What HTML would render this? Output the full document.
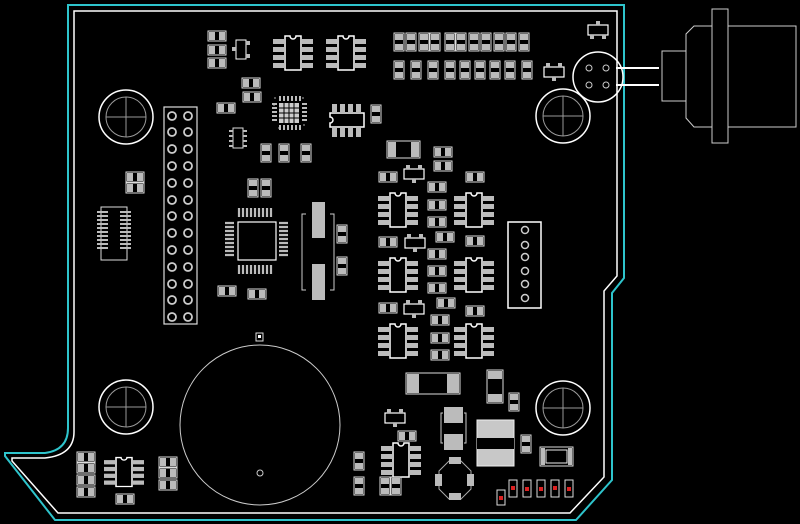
<!DOCTYPE html>
<html><head><meta charset="utf-8"><style>
html,body{margin:0;padding:0;background:#000;}
svg{display:block}
</style></head><body>
<svg width="800" height="524" viewBox="0 0 800 524" xmlns="http://www.w3.org/2000/svg">
<defs>
<g id="R"><rect x="-9" y="-5" width="18" height="10" fill="none" stroke="#ddd" stroke-width="1"/><rect x="-8" y="-4" width="6" height="8" fill="#bbb"/><rect x="2" y="-4" width="6" height="8" fill="#bbb"/></g>
<g id="RV"><rect x="-5" y="-9" width="10" height="18" fill="none" stroke="#ddd" stroke-width="1"/><rect x="-4" y="-8" width="8" height="6" fill="#bbb"/><rect x="-4" y="2" width="8" height="6" fill="#bbb"/></g>
<g id="S"><path d="M-8,-17 H-3 A3,3 0 0 0 3,-17 H8 V17 H-8 Z" fill="none" stroke="#fff" stroke-width="1.5"/>
<g fill="#bbb"><rect x="-20" y="-14" width="11" height="5"/><rect x="-20" y="-6" width="11" height="5"/><rect x="-20" y="2" width="11" height="5"/><rect x="-20" y="10" width="11" height="5"/><rect x="9" y="-14" width="11" height="5"/><rect x="9" y="-6" width="11" height="5"/><rect x="9" y="2" width="11" height="5"/><rect x="9" y="10" width="11" height="5"/></g></g>
<g id="T"><rect x="-10" y="-5" width="20" height="10" fill="none" stroke="#fff" stroke-width="1.2"/><g fill="#bbb"><rect x="-8" y="-9" width="4" height="4"/><rect x="4" y="-9" width="4" height="4"/><rect x="-2" y="5" width="4" height="4"/></g></g>
<g id="T2"><rect x="-10" y="-5" width="20" height="10" fill="none" stroke="#fff" stroke-width="1.2"/><g fill="#bbb"><rect x="-8" y="5" width="4" height="4"/><rect x="4" y="5" width="4" height="4"/><rect x="-2" y="-9" width="4" height="4"/></g></g>
<g id="H"><circle r="27" fill="none" stroke="#fff" stroke-width="1.5"/><circle r="20" fill="none" stroke="#999" stroke-width="1"/><path d="M-20,0 H20 M0,-20 V20" stroke="#999" stroke-width="1"/></g>
<g id="P"><circle r="4" fill="none" stroke="#ccc" stroke-width="1.8"/></g>
</defs>

<path d="M68,5 H624 V278 L612,293 V480 L576,520 H55 L5,456 V453 H45 Q68,450 68,428 Z" fill="none" stroke="#2ec4cc" stroke-width="2"/>
<path d="M74,11 H617 V276 L604,291 V477 L570,513 H58 L12,461 V458 H45 Q74,455 74,432 Z" fill="none" stroke="#fff" stroke-width="1.5"/>

<use href="#H" x="126" y="117"/><use href="#H" x="563" y="116"/><use href="#H" x="126" y="407"/><use href="#H" x="563" y="408"/>

<circle cx="598" cy="77" r="25" fill="none" stroke="#fff" stroke-width="1.5"/>
<circle cx="589" cy="68" r="3" fill="none" stroke="#ccc"/><circle cx="606" cy="68" r="3" fill="none" stroke="#ccc"/>
<circle cx="589" cy="85" r="3" fill="none" stroke="#ccc"/><circle cx="606" cy="85" r="3" fill="none" stroke="#ccc"/>
<path d="M616,68 H659 M616,85 H659" stroke="#fff" stroke-width="2"/>
<rect x="662" y="51" width="24" height="50" fill="none" stroke="#ccc"/>
<path d="M712,26 H694 L686,34 V118 L694,127 H712" fill="none" stroke="#ccc"/>
<rect x="712" y="9" width="16" height="134" fill="none" stroke="#ccc"/>
<rect x="728" y="26" width="68" height="101" fill="none" stroke="#ccc"/>

<rect x="164" y="107" width="33" height="217" fill="none" stroke="#ddd" stroke-width="1.2"/>
<g>
<use href="#P" x="172" y="116"/><use href="#P" x="188" y="116"/>
<use href="#P" x="172" y="132"/><use href="#P" x="188" y="132"/>
<use href="#P" x="172" y="149"/><use href="#P" x="188" y="149"/>
<use href="#P" x="172" y="166"/><use href="#P" x="188" y="166"/>
<use href="#P" x="172" y="183"/><use href="#P" x="188" y="183"/>
<use href="#P" x="172" y="200"/><use href="#P" x="188" y="200"/>
<use href="#P" x="172" y="216"/><use href="#P" x="188" y="216"/>
<use href="#P" x="172" y="233"/><use href="#P" x="188" y="233"/>
<use href="#P" x="172" y="250"/><use href="#P" x="188" y="250"/>
<use href="#P" x="172" y="267"/><use href="#P" x="188" y="267"/>
<use href="#P" x="172" y="284"/><use href="#P" x="188" y="284"/>
<use href="#P" x="172" y="300"/><use href="#P" x="188" y="300"/>
<use href="#P" x="172" y="317"/><use href="#P" x="188" y="317"/>
</g>

<rect x="101" y="207" width="26" height="53" fill="none" stroke="#ddd"/>
<g stroke="#bbb" stroke-width="2">
<path d="M97,212 H108 M97,216 H108 M97,220 H108 M97,224 H108 M97,228 H108 M97,232 H108 M97,236 H108 M97,240 H108 M97,244 H108 M97,248 H108"/>
<path d="M120,212 H131 M120,216 H131 M120,220 H131 M120,224 H131 M120,228 H131 M120,232 H131 M120,236 H131 M120,240 H131 M120,244 H131 M120,248 H131"/>
</g>
<use href="#R" x="135" y="177"/><use href="#R" x="135" y="188"/>

<use href="#R" x="217" y="36"/><use href="#R" x="217" y="50"/><use href="#R" x="217" y="63"/>
<rect x="236" y="40" width="10" height="19" fill="none" stroke="#fff"/><rect x="232" y="47" width="4" height="4" fill="#bbb"/><rect x="246" y="41" width="4" height="4" fill="#bbb"/><rect x="246" y="54" width="4" height="4" fill="#bbb"/>
<use href="#R" x="251" y="83"/><use href="#R" x="252" y="97"/><use href="#R" x="226" y="108"/>
<rect x="233" y="128" width="10" height="20" fill="none" stroke="#ddd"/>
<g fill="#bbb"><rect x="229" y="130" width="4" height="2"/><rect x="229" y="135" width="4" height="2"/><rect x="229" y="140" width="4" height="2"/><rect x="229" y="145" width="4" height="2"/><rect x="243" y="130" width="4" height="2"/><rect x="243" y="135" width="4" height="2"/><rect x="243" y="140" width="4" height="2"/><rect x="243" y="145" width="4" height="2"/></g>
<use href="#RV" x="266" y="153"/><use href="#RV" x="284" y="153"/><use href="#RV" x="306" y="153"/>
<use href="#RV" x="253" y="188"/><use href="#RV" x="266" y="188"/>

<use href="#S" x="293" y="53"/><use href="#S" x="346" y="53"/>

<rect x="279" y="103" width="20" height="20" fill="#ccc"/>
<rect x="274" y="98" width="30" height="30" fill="none" stroke="#aaa" stroke-dasharray="2 26"/>
<g stroke="#bbb" stroke-width="2">
<path d="M280,96 v5 M284,96 v5 M288,96 v5 M292,96 v5 M296,96 v5 M300,96 v5 M280,125 v5 M284,125 v5 M288,125 v5 M292,125 v5 M296,125 v5 M300,125 v5"/>
<path d="M272,104 h5 M272,108 h5 M272,112 h5 M272,116 h5 M272,120 h5 M302,104 h5 M302,108 h5 M302,112 h5 M302,116 h5 M302,120 h5"/>
</g>
<g stroke="#000" stroke-width="1"><path d="M284,103 v20 M289,103 v20 M294,103 v20 M279,108 h20 M279,113 h20 M279,118 h20"/></g>

<path d="M330,113 H364 V127 H330 V123 A3,3 0 0 0 330,117 Z" fill="none" stroke="#fff" stroke-width="1.5"/>
<g fill="#bbb"><rect x="332" y="104" width="5" height="9"/><rect x="340" y="104" width="5" height="9"/><rect x="348" y="104" width="5" height="9"/><rect x="356" y="104" width="5" height="9"/><rect x="332" y="128" width="5" height="9"/><rect x="340" y="128" width="5" height="9"/><rect x="348" y="128" width="5" height="9"/><rect x="356" y="128" width="5" height="9"/></g>
<use href="#RV" x="376" y="114"/>

<rect x="238" y="222" width="38" height="38" fill="none" stroke="#fff" stroke-width="1.2"/>
<g stroke="#bbb" stroke-width="2.2">
<path d="M239,208 v9 M243,208 v9 M247,208 v9 M251,208 v9 M255,208 v9 M259,208 v9 M263,208 v9 M267,208 v9 M271,208 v9"/>
<path d="M239,265 v9 M243,265 v9 M247,265 v9 M251,265 v9 M255,265 v9 M259,265 v9 M263,265 v9 M267,265 v9 M271,265 v9"/>
<path d="M225,223 h9 M225,227 h9 M225,231 h9 M225,235 h9 M225,239 h9 M225,243 h9 M225,247 h9 M225,251 h9 M225,255 h9"/>
<path d="M279,223 h9 M279,227 h9 M279,231 h9 M279,235 h9 M279,239 h9 M279,243 h9 M279,247 h9 M279,251 h9 M279,255 h9"/>
</g>
<use href="#R" x="227" y="291"/><use href="#R" x="257" y="294"/>

<path d="M306,214 H302 V290 H306 M330,214 H334 V290 H330" fill="none" stroke="#ccc"/>
<rect x="312" y="202" width="13" height="36" fill="#bbb"/><rect x="312" y="264" width="13" height="36" fill="#bbb"/>
<use href="#RV" x="342" y="234"/><use href="#RV" x="342" y="266"/>

<g>
<use href="#RV" x="399" y="42"/><use href="#RV" x="411" y="42"/><use href="#RV" x="424" y="42"/><use href="#RV" x="435" y="42"/><use href="#RV" x="450" y="42"/><use href="#RV" x="461" y="42"/><use href="#RV" x="474" y="42"/><use href="#RV" x="486" y="42"/><use href="#RV" x="499" y="42"/><use href="#RV" x="511" y="42"/><use href="#RV" x="524" y="42"/>
<use href="#RV" x="399" y="70"/><use href="#RV" x="416" y="70"/><use href="#RV" x="433" y="70"/><use href="#RV" x="450" y="70"/><use href="#RV" x="465" y="70"/><use href="#RV" x="480" y="70"/><use href="#RV" x="495" y="70"/><use href="#RV" x="510" y="70"/><use href="#RV" x="527" y="70"/>
</g>
<use href="#T2" x="598" y="30"/><use href="#T" x="554" y="72"/>

<rect x="387" y="141" width="33" height="17" fill="none" stroke="#ddd"/><rect x="388" y="142" width="8" height="15" fill="#bbb"/><rect x="411" y="142" width="8" height="15" fill="#bbb"/>
<use href="#R" x="443" y="152"/><use href="#R" x="443" y="166"/>
<use href="#T" x="414" y="174"/>
<use href="#R" x="388" y="177"/><use href="#R" x="475" y="177"/>
<use href="#R" x="437" y="187"/><use href="#R" x="437" y="205"/><use href="#R" x="437" y="222"/>
<use href="#S" x="398" y="210"/><use href="#S" x="474" y="210"/>
<use href="#R" x="388" y="242"/><use href="#T" x="415" y="243"/><use href="#R" x="445" y="237"/><use href="#R" x="475" y="241"/>
<use href="#R" x="437" y="254"/><use href="#R" x="437" y="271"/><use href="#R" x="437" y="288"/>
<use href="#S" x="398" y="275"/><use href="#S" x="474" y="275"/>
<use href="#R" x="388" y="308"/><use href="#T" x="414" y="309"/><use href="#R" x="446" y="303"/><use href="#R" x="475" y="311"/>
<use href="#R" x="440" y="320"/><use href="#R" x="440" y="338"/><use href="#R" x="440" y="355"/>
<use href="#S" x="398" y="341"/><use href="#S" x="474" y="341"/>

<rect x="508" y="222" width="33" height="86" fill="none" stroke="#fff" stroke-width="1.5"/>
<g fill="none" stroke="#ccc" stroke-width="1.5">
<circle cx="525" cy="230" r="3.5"/><circle cx="525" cy="245" r="3.5"/><circle cx="525" cy="257" r="3.5"/><circle cx="525" cy="271" r="3.5"/><circle cx="525" cy="284" r="3.5"/><circle cx="525" cy="298" r="3.5"/>
</g>

<circle cx="260" cy="425" r="80" fill="none" stroke="#ccc" stroke-width="1"/>
<rect x="256" y="333" width="7" height="8" fill="none" stroke="#ddd"/><rect x="258" y="335" width="3" height="3" fill="#fff"/>
<circle cx="260" cy="473" r="3" fill="none" stroke="#ccc"/>

<use href="#R" x="86" y="457"/><use href="#R" x="86" y="468"/><use href="#R" x="86" y="480"/><use href="#R" x="86" y="492"/>
<g transform="translate(124,472) scale(1,0.85)"><use href="#S"/></g>
<use href="#R" x="168" y="462"/><use href="#R" x="168" y="473"/><use href="#R" x="168" y="485"/>
<use href="#R" x="125" y="499"/>

<rect x="406" y="373" width="54" height="21" fill="none" stroke="#ddd"/><rect x="407" y="374" width="12" height="19" fill="#bbb"/><rect x="447" y="374" width="12" height="19" fill="#bbb"/>
<rect x="487" y="370" width="16" height="33" fill="none" stroke="#ddd"/><rect x="488" y="371" width="14" height="8" fill="#bbb"/><rect x="488" y="394" width="14" height="8" fill="#bbb"/>
<use href="#RV" x="514" y="402"/>
<use href="#T" x="395" y="418"/>
<use href="#R" x="407" y="436"/>
<use href="#S" x="401" y="460"/>
<use href="#RV" x="359" y="461"/><use href="#RV" x="359" y="486"/><use href="#RV" x="385" y="486"/><use href="#RV" x="396" y="486"/>
<rect x="444" y="407" width="19" height="16" fill="#bbb"/><rect x="444" y="434" width="19" height="16" fill="#bbb"/>
<path d="M443,413 H441 V443 H443 M464,413 H466 V443 H464" fill="none" stroke="#ccc"/>
<path d="M449,461 H461 L471,471 V489 L461,499 H449 L439,489 V471 Z" fill="none" stroke="#aaa"/>
<g fill="#bbb"><rect x="449" y="457" width="12" height="7"/><rect x="449" y="493" width="12" height="7"/><rect x="435" y="474" width="7" height="12"/><rect x="467" y="474" width="7" height="12"/></g>
<rect x="477" y="420" width="37" height="46" fill="#c8c8c8" stroke="#eee"/><rect x="477" y="438" width="37" height="11" fill="#000"/>
<use href="#RV" x="526" y="444"/>
<rect x="540" y="447" width="33" height="19" fill="none" stroke="#ddd"/><rect x="541" y="448" width="4" height="17" fill="#bbb"/><rect x="568" y="448" width="4" height="17" fill="#bbb"/><rect x="546" y="450" width="21" height="13" fill="none" stroke="#eee"/>
<g>
<rect x="497" y="490" width="8" height="15" fill="none" stroke="#ddd"/><rect x="499" y="496" width="4" height="4" fill="#d22"/>
<rect x="509" y="480" width="8" height="17" fill="none" stroke="#ddd"/><rect x="511" y="486" width="4" height="4" fill="#d22"/>
<rect x="523" y="480" width="8" height="17" fill="none" stroke="#ddd"/><rect x="525" y="487" width="4" height="4" fill="#d22"/>
<rect x="537" y="480" width="8" height="17" fill="none" stroke="#ddd"/><rect x="539" y="487" width="4" height="4" fill="#d22"/>
<rect x="551" y="480" width="8" height="17" fill="none" stroke="#ddd"/><rect x="553" y="486" width="4" height="4" fill="#d22"/>
<rect x="565" y="480" width="8" height="17" fill="none" stroke="#ddd"/><rect x="567" y="487" width="4" height="4" fill="#d22"/>
</g>
</svg>
</body></html>
